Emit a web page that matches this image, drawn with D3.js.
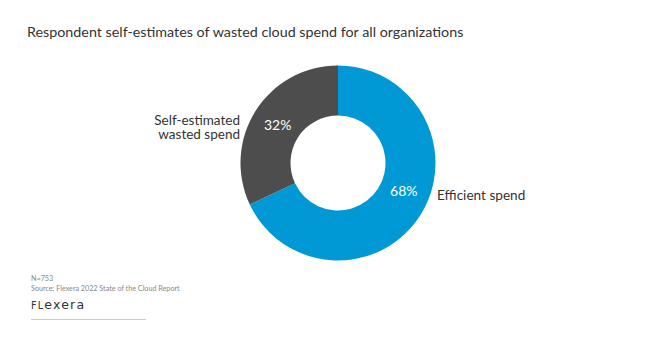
<!DOCTYPE html>
<html><head><meta charset="utf-8">
<script src="https://cdn.jsdelivr.net/npm/d3@7"></script>
<style>body{margin:0;background:#fff}svg{display:block}</style>
</head><body>
<svg id="c" width="654" height="337"></svg>
<script>
const categories = ["Efficient spend", "Self-estimated wasted spend"];
const values = [68, 32];
const valueLabels = ["68%", "32%"];
const colors = ["#0099D5", "#4D4D4D"];

const svg = d3.select("#c");
const font = "Lato, 'Open Sans', sans-serif";

svg.append("text").attr("x", 27).attr("y", 37)
  .attr("font-family", font).attr("font-size", 14.3).attr("fill", "#333")
  .text("Respondent self-estimates of wasted cloud spend for all organizations");

const cx = 338, cy = 163, R = 97.5, r = 47.5;
const g = svg.append("g").attr("transform", `translate(${cx},${cy})`);
const pie = d3.pie().sort(null).value(d => d)(values);
const arc = d3.arc().innerRadius(r).outerRadius(R);
g.selectAll("path").data(pie).join("path")
  .attr("d", arc).attr("fill", (d, i) => colors[i]);

// label placement along each arc (fraction of the arc's sweep)
const labelFrac = [0.462, 0.5];
const labelR = 71.5;
g.selectAll("text.v").data(pie).join("text").attr("class", "v")
  .attr("transform", (d, i) => {
    const a = d.startAngle + (d.endAngle - d.startAngle) * labelFrac[i];
    return `translate(${labelR * Math.sin(a)},${-labelR * Math.cos(a)})`;
  })
  .attr("text-anchor", "middle").attr("dy", "0.35em")
  .attr("font-family", font).attr("font-size", 14).attr("fill", "#fff")
  .text((d, i) => valueLabels[i]);

// category labels
svg.append("text").attr("x", 437).attr("y", 200)
  .attr("font-family", font).attr("font-size", 13.6).attr("fill", "#333")
  .text(categories[0]);
svg.append("text").attr("text-anchor", "end").attr("x", 240).attr("y", 125)
  .attr("font-family", font).attr("font-size", 13.5).attr("fill", "#333").text("Self-estimated");
svg.append("text").attr("text-anchor", "end").attr("x", 240).attr("y", 139)
  .attr("font-family", font).attr("font-size", 13.5).attr("fill", "#333").text("wasted spend");

// footer
svg.append("text").attr("x", 31).attr("y", 281).attr("font-family", font)
  .attr("font-size", 7.2).attr("fill", "#888").text("N=753");
svg.append("text").attr("x", 31).attr("y", 291).attr("font-family", font)
  .attr("font-size", 7.2).attr("fill", "#888").text("Source: Flexera 2022 State of the Cloud Report");
const logo = svg.append("text").attr("x", 31).attr("y", 309)
  .attr("font-family", "'DejaVu Sans', sans-serif").attr("fill", "#333").attr("letter-spacing", 1.2);
logo.append("tspan").attr("font-size", 9.6).text("FL");
logo.append("tspan").attr("font-size", 12.5).text("exera");
svg.append("line").attr("x1", 31).attr("x2", 146).attr("y1", 319.5).attr("y2", 319.5)
  .attr("stroke", "#ccc").attr("stroke-width", 1);
</script>
</body></html>
